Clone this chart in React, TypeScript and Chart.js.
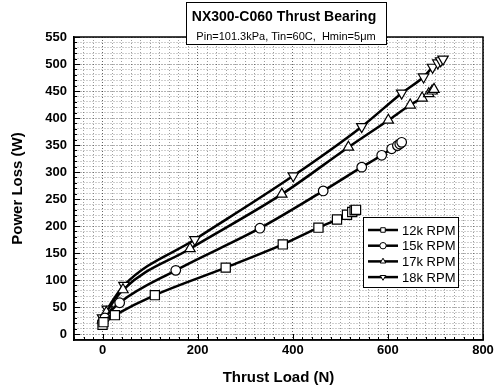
import React, { useEffect, useRef } from 'react';
import { Chart, registerables } from 'chart.js';

Chart.register(...registerables);

// ---- Data ----
const seriesNames = ['12k RPM', '15k RPM', '17k RPM', '18k RPM'];

const thrust12 = [0, 2, 26, 110, 259, 379, 454, 493, 514, 525, 530, 533];
const power12 = [17, 22, 35, 72, 123, 166, 197, 212, 221, 226, 229, 230];

const thrust15 = [0, 5, 36, 154, 331, 464, 545, 587, 608, 620, 625, 629];
const power15 = [22, 30, 58, 118, 196, 265, 309, 331, 343, 349, 352, 355];

const thrust17 = [0, 8, 43, 184, 377, 517, 601, 647, 672, 686, 693, 697];
const power17 = [26, 40, 82, 158, 259, 346, 396, 424, 437, 445, 450, 453];

const thrust18 = [0, 10, 45, 194, 401, 545, 629, 675, 694, 705, 711, 716];
const power18 = [30, 46, 90, 175, 293, 384, 446, 476, 494, 502, 506, 509];

const xTickLabels = [0, 200, 400, 600, 800];
const yTickLabels = [0, 50, 100, 150, 200, 250, 300, 350, 400, 450, 500, 550];
const xMinorStep = 20;
const yMinorStep = 10;

const titleText = 'NX300-C060 Thrust Bearing';
const subtitleText = 'Pin=101.3kPa, Tin=60C,  Hmin=5\u03bcm';
const xTitle = 'Thrust Load (N)';
const yTitle = 'Power Loss (W)';

const pointStyles = ['rect', 'circle', 'triangle', 'triangle'];
const pointRotations = [0, 0, 0, 180];
const pointRadii = [6.5, 4.8, 6, 6];

const FONT = '"Liberation Sans", Arial, sans-serif';

function drawMarker(ctx: CanvasRenderingContext2D, style: string, rot: number, x: number, y: number, r: number) {
  ctx.beginPath();
  if (style === 'rect') {
    const s = r * Math.SQRT1_2;
    ctx.rect(x - s, y - s, 2 * s, 2 * s);
  } else if (style === 'circle') {
    ctx.arc(x, y, r, 0, Math.PI * 2);
  } else {
    const a0 = (rot * Math.PI) / 180 - Math.PI / 2;
    for (let k = 0; k < 3; k++) {
      const a = a0 + (k * 2 * Math.PI) / 3;
      const px = x + Math.cos(a) * r;
      const py = y + Math.sin(a) * r;
      if (k === 0) ctx.moveTo(px, py);
      else ctx.lineTo(px, py);
    }
    ctx.closePath();
  }
  ctx.fillStyle = '#fff';
  ctx.fill();
  ctx.stroke();
}

const decoPlugin = {
  id: 'deco',
  afterDraw(chart: any) {
    const { ctx, chartArea: a, scales } = chart;
    const xs = scales.x;
    const ys = scales.y;
    ctx.save();
    ctx.setLineDash([]);
    // inward ticks
    ctx.strokeStyle = '#000';
    ctx.lineWidth = 1;
    ctx.beginPath();
    xs.ticks.forEach((t: any) => {
      if (t.value < xs.min || t.value > xs.max) return;
      const px = Math.round(xs.getPixelForValue(t.value)) + 0.5;
      const len = xTickLabels.includes(t.value) ? 6 : 3;
      ctx.moveTo(px, a.bottom);
      ctx.lineTo(px, a.bottom - len);
    });
    ys.ticks.forEach((t: any) => {
      if (t.value < ys.min || t.value > ys.max) return;
      const py = Math.round(ys.getPixelForValue(t.value)) + 0.5;
      const len = yTickLabels.includes(t.value) ? 6 : 3;
      ctx.moveTo(a.left, py);
      ctx.lineTo(a.left + len, py);
    });
    ctx.stroke();

    // frame
    ctx.lineWidth = 1.5;
    ctx.strokeRect(a.left, a.top, a.right - a.left, a.bottom - a.top);

    // legend
    const lw = 95;
    const lh = 70;
    const lx = a.right - 25 - lw;
    const ly = a.bottom - 53 - lh;
    ctx.fillStyle = '#fff';
    ctx.fillRect(lx, ly, lw, lh);
    ctx.lineWidth = 1;
    ctx.strokeStyle = '#000';
    ctx.strokeRect(lx + 0.5, ly + 0.5, lw, lh);
    ctx.font = `13px ${FONT}`;
    ctx.textBaseline = 'middle';
    ctx.textAlign = 'left';
    seriesNames.forEach((name, i) => {
      const yy = ly + 13 + i * 15.7;
      ctx.lineWidth = 2.5;
      ctx.beginPath();
      ctx.moveTo(lx + 5, yy);
      ctx.lineTo(lx + 35, yy);
      ctx.stroke();
      ctx.lineWidth = 1;
      drawMarker(ctx, pointStyles[i], pointRotations[i], lx + 20, yy, 3.2);
      ctx.fillStyle = '#000';
      ctx.fillText(name, lx + 39, yy + 1);
    });

    // title box
    const bx = 186;
    const bw = 200;
    const by = 2;
    const bh = 42;
    ctx.fillStyle = '#fff';
    ctx.fillRect(bx, by, bw, bh);
    ctx.lineWidth = 1;
    ctx.strokeRect(bx + 0.5, by + 0.5, bw, bh);
    ctx.fillStyle = '#000';
    ctx.textAlign = 'center';
    ctx.font = `bold 14px ${FONT}`;
    ctx.fillText(titleText, bx + bw / 2 - 2, 17);
    ctx.font = `11px ${FONT}`;
    ctx.fillText(subtitleText, bx + bw / 2, 37);
    ctx.restore();
  },
};

function makeTicks(min: number, max: number, step: number) {
  const out: { value: number }[] = [];
  for (let v = Math.ceil(min / step) * step; v <= max + 1e-9; v += step) out.push({ value: v });
  return out;
}

export default function App() {
  const canvasRef = useRef<HTMLCanvasElement | null>(null);

  useEffect(() => {
    if (!canvasRef.current) return;
    const xsData = [thrust12, thrust15, thrust17, thrust18];
    const ysData = [power12, power15, power17, power18];
    const datasets = seriesNames.map((name, i) => ({
      label: name,
      data: xsData[i].map((t, j) => ({ x: t, y: ysData[i][j] })),
      borderColor: '#000',
      borderWidth: 2.5,
      backgroundColor: '#fff',
      pointStyle: pointStyles[i] as any,
      pointRotation: pointRotations[i],
      pointRadius: pointRadii[i],
      pointBorderWidth: 1.2,
      pointBorderColor: '#000',
      pointBackgroundColor: '#fff',
      cubicInterpolationMode: 'monotone' as const,
      fill: false,
    }));

    const gridColor = (labels: number[]) => (ctx: any) =>
      ctx.tick && labels.includes(ctx.tick.value) ? 'rgba(0,0,0,0.6)' : 'rgba(0,0,0,0.38)';

    const chart = new Chart(canvasRef.current, {
      type: 'line',
      data: { datasets },
      options: {
        animation: false,
        responsive: false,
        devicePixelRatio: 1,
        layout: { padding: { top: 37, right: 17, left: 0, bottom: 0 } },
        plugins: {
          legend: { display: false },
          tooltip: { enabled: false },
          title: { display: false },
        },
        scales: {
          x: {
            type: 'linear',
            min: -60,
            max: 800,
            afterBuildTicks: (s: any) => {
              s.ticks = makeTicks(-60, 800, xMinorStep);
            },
            afterFit: (s: any) => {
              s.height = 47;
            },
            ticks: {
              autoSkip: false,
              maxRotation: 0,
              minRotation: 0,
              padding: 3,
              color: '#000',
              font: { family: FONT, size: 13, weight: 'bold' },
              callback: (v: any) => (xTickLabels.includes(Number(v)) ? String(v) : ''),
            },
            grid: {
              color: gridColor(xTickLabels),
              lineWidth: 1,
              drawTicks: false,
              tickLength: 0,
            },
            border: { display: true, color: '#000', width: 1.5, dash: [1, 2] },
            title: {
              display: true,
              text: xTitle,
              color: '#000',
              font: { family: FONT, size: 15, weight: 'bold' },
              padding: { top: 0, bottom: 0 },
            },
          },
          y: {
            type: 'linear',
            min: -11,
            max: 550,
            afterBuildTicks: (s: any) => {
              s.ticks = makeTicks(-11, 550, yMinorStep);
            },
            afterFit: (s: any) => {
              s.width = 74;
            },
            ticks: {
              autoSkip: false,
              padding: 7,
              color: '#000',
              font: { family: FONT, size: 13, weight: 'bold' },
              callback: (v: any) => (yTickLabels.includes(Number(v)) ? String(v) : ''),
            },
            grid: {
              color: gridColor(yTickLabels),
              lineWidth: 1,
              drawTicks: false,
              tickLength: 0,
            },
            border: { display: true, color: '#000', width: 1.5, dash: [1, 2] },
            title: {
              display: true,
              text: yTitle,
              color: '#000',
              font: { family: FONT, size: 15, weight: 'bold' },
              padding: { top: 9, bottom: 0 },
            },
          },
        },
      } as any,
      plugins: [decoPlugin],
    });
    return () => chart.destroy();
  }, []);

  return (
    <div style={{ position: 'fixed', left: 0, top: 0, width: 500, height: 387, background: '#fff' }}>
      <canvas ref={canvasRef} width={500} height={387} />
    </div>
  );
}
